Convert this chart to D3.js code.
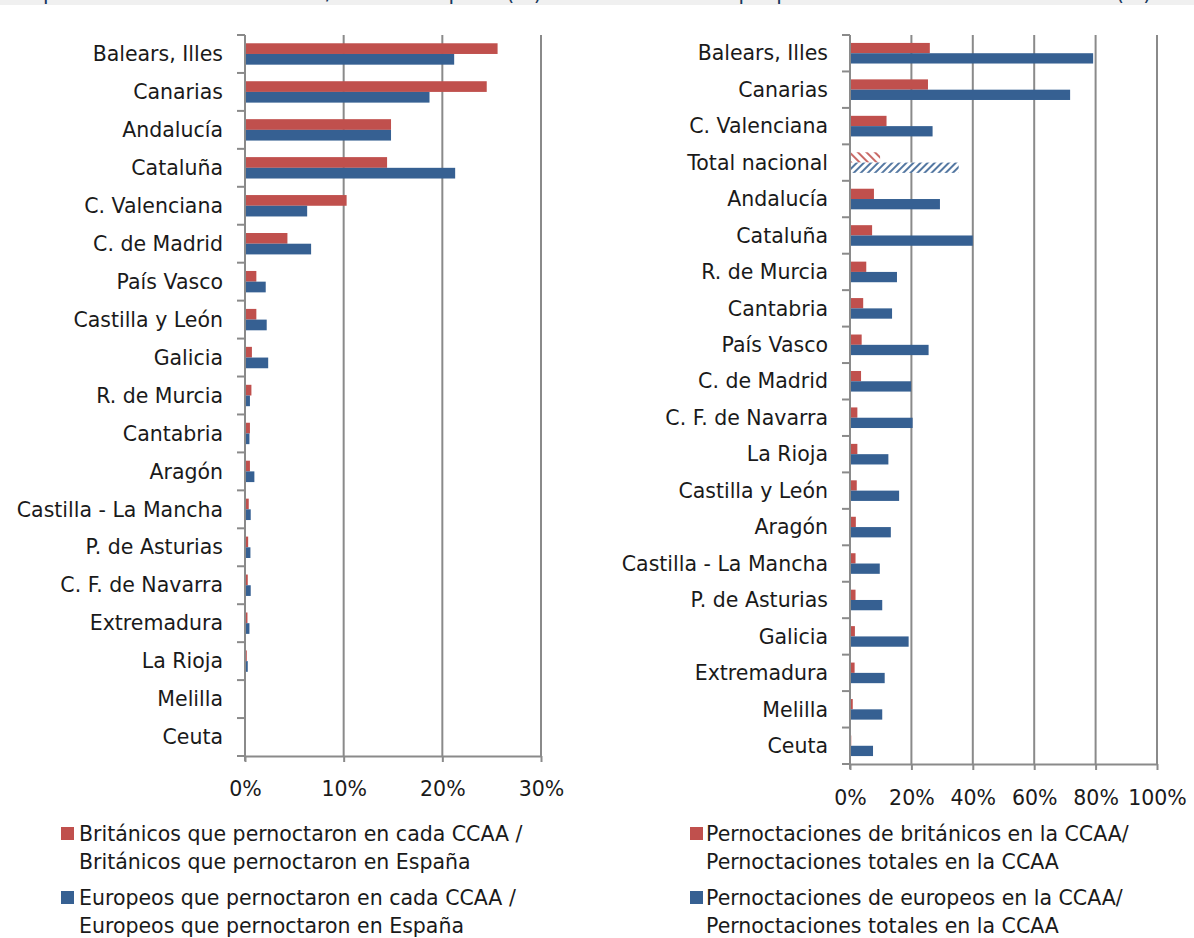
<!DOCTYPE html>
<html>
<head>
<meta charset="utf-8">
<script src="https://cdn.jsdelivr.net/npm/d3@7"></script>
<style>
  body { margin: 0; background: #fff; }
  svg text { font-family: "DejaVu Sans", sans-serif; fill: #1a1a1a; }
</style>
</head>
<body>
<svg id="canvas"></svg>
<script>
// ########## Data ##########

leftCats = ["Balears, Illes", "Canarias", "Andalucía", "Cataluña", "C. Valenciana", "C. de Madrid",
    "País Vasco", "Castilla y León", "Galicia", "R. de Murcia", "Cantabria", "Aragón",
    "Castilla - La Mancha", "P. de Asturias", "C. F. de Navarra", "Extremadura", "La Rioja", "Melilla", "Ceuta"];
leftBrit = [25.6, 24.5, 14.8, 14.4, 10.3, 4.3, 1.15, 1.15, 0.7, 0.65, 0.5, 0.5, 0.38, 0.32, 0.28, 0.25, 0.18, 0, 0];
leftEuro = [21.2, 18.7, 14.8, 21.3, 6.3, 6.7, 2.1, 2.2, 2.35, 0.5, 0.45, 0.95, 0.58, 0.55, 0.58, 0.45, 0.28, 0, 0];
leftTicks = [0, 10, 20, 30];
leftLegend = [
    ["Británicos que pernoctaron en cada CCAA /", "Británicos que pernoctaron en España"],
    ["Europeos que pernoctaron en cada CCAA /", "Europeos que pernoctaron en España"]
];

rightCats = ["Balears, Illes", "Canarias", "C. Valenciana", "Total nacional", "Andalucía", "Cataluña",
    "R. de Murcia", "Cantabria", "País Vasco", "C. de Madrid", "C. F. de Navarra", "La Rioja",
    "Castilla y León", "Aragón", "Castilla - La Mancha", "P. de Asturias", "Galicia", "Extremadura", "Melilla", "Ceuta"];
rightBrit = [26, 25.4, 11.9, 9.8, 7.8, 7.2, 5.3, 4.3, 3.8, 3.6, 2.4, 2.4, 2.2, 1.9, 1.8, 1.8, 1.6, 1.5, 0.9, 0.4];
rightEuro = [79.2, 71.7, 26.9, 35.4, 29.3, 40, 15.3, 13.7, 25.6, 19.9, 20.4, 12.5, 16, 13.3, 9.7, 10.5, 19.1, 11.3, 10.5, 7.5];
rightTicks = [0, 20, 40, 60, 80, 100];
rightLegend = [
    ["Pernoctaciones de británicos en la CCAA/", "Pernoctaciones totales en la CCAA"],
    ["Pernoctaciones de europeos en la CCAA/", "Pernoctaciones totales en la CCAA"]
];

// titles above the charts, cut off by the top edge in the picture
topTitles = ["pernoctaron en cada CCAA / total en España (%)", "que pernoctaron en cada comunidad (%)"];

red = "#c0504d";
blue = "#366092";
gridColor = "#8a8a8a";
fontSize = 20.5;

w = 1194;
h = 938;

svg = d3.select("#canvas").attr("width", w).attr("height", h);

// ########## Patterns for "Total nacional" ##########
defs = svg.append("defs");
function hatch(id, color, angle, size, stripe) {
    var p = defs.append("pattern")
        .attr("id", id)
        .attr("patternUnits", "userSpaceOnUse")
        .attr("width", size).attr("height", size)
        .attr("patternTransform", "rotate(" + angle + ")");
    p.append("rect").attr("width", size).attr("height", size).attr("fill", "#fff");
    p.append("rect").attr("width", stripe).attr("height", size).attr("fill", color).attr("opacity", 0.85);
}
hatch("hatchRed", red, -45, 6, 2);
hatch("hatchBlue", blue, 45, 5, 2);

// ########## Top strip ##########
defs.append("clipPath").attr("id", "topClip")
    .append("rect").attr("width", w).attr("height", 5);
svg.append("rect").attr("width", w).attr("height", 5).attr("fill", "#f0f0f0");
topStrip = svg.append("g").attr("clip-path", "url(#topClip)");
topStrip.append("text").attr("x", 43).attr("y", 0).attr("font-size", fontSize)
    .style("fill", "#17375e").text(topTitles[0]);
topStrip.append("text").attr("x", 731).attr("y", 0).attr("font-size", fontSize)
    .style("fill", "#17375e").text(topTitles[1]);

// ########## Chart ##########
function drawChart(cfg) {
    var g = svg.append("g");

    var x = d3.scaleLinear().domain(cfg.domain).range([cfg.x0, cfg.x1]);
    var y = d3.scaleBand().domain(cfg.cats).range([cfg.y0, cfg.y1]);
    var barH = cfg.barH;
    var sub = d3.scaleBand().domain([0, 1])
        .range([y.bandwidth() / 2 - barH, y.bandwidth() / 2 + barH]);

    // gridlines
    g.selectAll("line.grid")
        .data(cfg.ticks.slice(1))
        .enter().append("line")
        .attr("x1", function (d) { return x(d); })
        .attr("x2", function (d) { return x(d); })
        .attr("y1", cfg.y0)
        .attr("y2", cfg.y1)
        .attr("stroke", gridColor)
        .attr("stroke-width", 2);

    // bars
    var series = [cfg.brit, cfg.euro];
    var colors = [red, blue];
    series.forEach(function (vals, s) {
        g.selectAll("rect.s" + s)
            .data(cfg.cats)
            .enter().append("rect")
            .attr("x", x(0))
            .attr("y", function (d) { return y(d) + sub(s); })
            .attr("height", sub.bandwidth())
            .attr("width", function (d, i) { return x(vals[i]) - x(0); })
            .attr("fill", function (d) {
                if (d == "Total nacional") return s == 0 ? "url(#hatchRed)" : "url(#hatchBlue)";
                return colors[s];
            });
    });

    // category axis
    var yAxis = d3.axisLeft(y).tickSize(0).tickPadding(22);
    var ya = g.append("g").attr("transform", "translate(" + x(0) + ",0)").call(yAxis);
    ya.select(".domain").remove();
    ya.selectAll("text").attr("font-size", fontSize).attr("dy", "0.35em");
    g.selectAll("line.ctick")
        .data(d3.range(cfg.cats.length + 1))
        .enter().append("line")
        .attr("x1", x(0) - 8).attr("x2", x(0))
        .attr("y1", function (i) { return cfg.y0 + i * y.step(); })
        .attr("y2", function (i) { return cfg.y0 + i * y.step(); })
        .attr("stroke", gridColor).attr("stroke-width", 2);
    g.append("line")
        .attr("x1", x(0)).attr("x2", x(0))
        .attr("y1", cfg.y0).attr("y2", cfg.y1 + 5)
        .attr("stroke", gridColor).attr("stroke-width", 2);

    // value axis
    var xAxis = d3.axisBottom(x).tickValues(cfg.ticks)
        .tickFormat(function (d) { return d + "%"; })
        .tickSize(6).tickSizeOuter(0).tickPadding(cfg.tickPad);
    var xa = g.append("g").attr("transform", "translate(0," + cfg.y1 + ")").call(xAxis);
    xa.select(".domain").attr("stroke", gridColor).attr("stroke-width", 2);
    xa.selectAll(".tick line").attr("stroke", gridColor).attr("stroke-width", 2);
    xa.selectAll("text").attr("font-size", fontSize);

    // legend
    var lg = g.selectAll("g.legend")
        .data(cfg.legend)
        .enter().append("g")
        .attr("transform", function (d, i) { return "translate(" + cfg.legX + "," + (cfg.legY + i * 64) + ")"; });
    lg.append("rect")
        .attr("x", 0).attr("y", -7)
        .attr("width", 13).attr("height", 13)
        .attr("fill", function (d, i) { return colors[i]; });
    lg.append("text")
        .attr("x", cfg.legText)
        .attr("font-size", fontSize)
        .selectAll("tspan")
        .data(function (d) { return d; })
        .enter().append("tspan")
        .attr("x", cfg.legText)
        .attr("y", function (d, i) { return i * 28; })
        .attr("dy", "0.35em")
        .text(function (d) { return d; });
}

drawChart({
    cats: leftCats, brit: leftBrit, euro: leftEuro, ticks: leftTicks,
    domain: [0, 30], x0: 245, x1: 541, y0: 35, y1: 756, barH: 10.7,
    tickPad: 19, legend: leftLegend, legX: 61, legY: 834, legText: 18
});

drawChart({
    cats: rightCats, brit: rightBrit, euro: rightEuro, ticks: rightTicks,
    domain: [0, 100], x0: 850, x1: 1157, y0: 35, y1: 764, barH: 10.3,
    tickPad: 20, legend: rightLegend, legX: 690, legY: 834, legText: 16
});
</script>
</body>
</html>
